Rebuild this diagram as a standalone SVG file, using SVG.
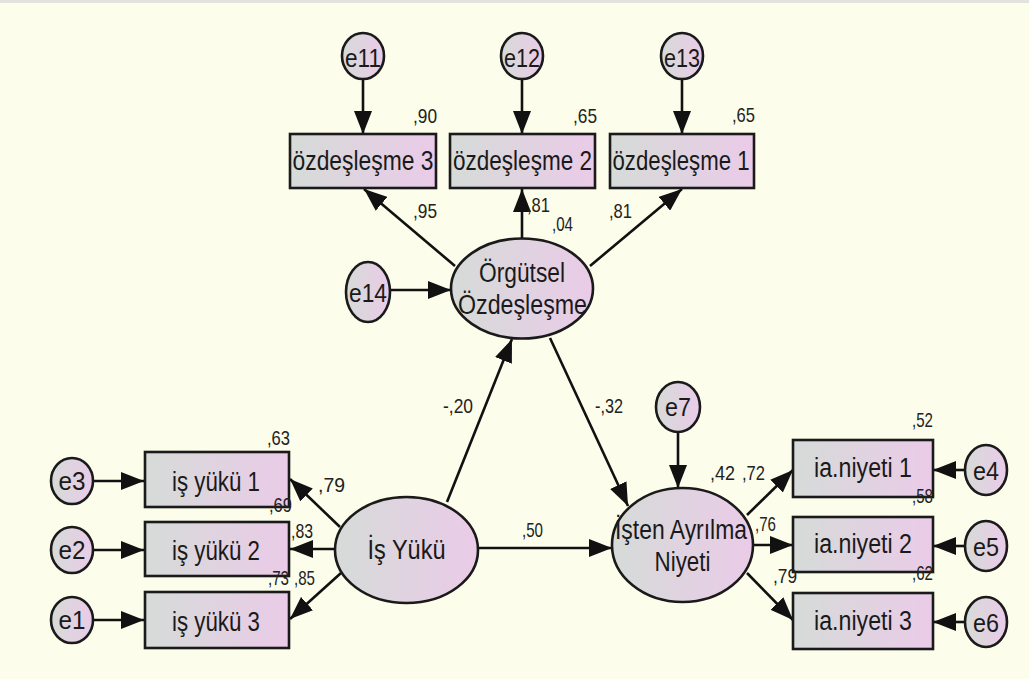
<svg xmlns="http://www.w3.org/2000/svg" width="1029" height="679" viewBox="0 0 1029 679">
<style>
.shp{stroke:#1a1a1a;stroke-width:2.6;fill:url(#g)}
.ln{stroke:#111;stroke-width:2.6;fill:none;marker-end:url(#ah)}
text{font-family:"Liberation Sans",Arial,sans-serif;fill:#1a1a1a}
.lb{font-size:27px;text-anchor:middle}
.el{font-size:26px;text-anchor:middle}
.v{font-size:21px;text-anchor:end;fill:#222}
</style>
<defs>
<linearGradient id="g" x1="0" y1="0" x2="1" y2="0">
<stop offset="0" stop-color="#d6dbd8"/>
<stop offset="1" stop-color="#eacbe8"/>
</linearGradient>
<marker id="ah" markerUnits="userSpaceOnUse" markerWidth="24" markerHeight="18" refX="23" refY="9" orient="auto">
<path d="M0,0 L23,9 L0,18 z" fill="#111"/>
</marker>
</defs>
<rect width="1029" height="679" fill="#fcfdeb"/>
<rect width="1029" height="3" fill="#e2e2de"/>

<g id="connectors">
<line class="ln" x1="363" y1="79" x2="363" y2="134"/>
<line class="ln" x1="522" y1="79" x2="522" y2="134"/>
<line class="ln" x1="682" y1="79" x2="682" y2="134"/>
<line class="ln" x1="390" y1="290" x2="451" y2="290"/>
<line class="ln" x1="455" y1="266" x2="364" y2="189"/>
<line class="ln" x1="522" y1="239" x2="522" y2="189"/>
<line class="ln" x1="590" y1="266" x2="682" y2="189"/>
<line class="ln" x1="340" y1="527" x2="290" y2="479"/>
<line class="ln" x1="335" y1="549" x2="290" y2="549"/>
<line class="ln" x1="341" y1="573" x2="290" y2="619"/>
<line class="ln" x1="447" y1="502" x2="512" y2="339"/>
<line class="ln" x1="550" y1="338" x2="628" y2="506"/>
<line class="ln" x1="478" y1="548" x2="612" y2="548"/>
<line class="ln" x1="93" y1="481" x2="144" y2="481"/>
<line class="ln" x1="93" y1="550" x2="144" y2="550"/>
<line class="ln" x1="93" y1="620" x2="144" y2="620"/>
<line class="ln" x1="678" y1="432" x2="678" y2="488"/>
<line class="ln" x1="747" y1="515" x2="793" y2="470"/>
<line class="ln" x1="753" y1="545" x2="793" y2="545"/>
<line class="ln" x1="747" y1="573" x2="793" y2="620"/>
<line class="ln" x1="965" y1="470" x2="933" y2="470"/>
<line class="ln" x1="965" y1="546" x2="933" y2="546"/>
<line class="ln" x1="965" y1="622" x2="933" y2="622"/>
</g>

<g id="e11"><ellipse class="shp" cx="363" cy="56" rx="21" ry="23"/><text class="el" x="363" y="67" textLength="36" lengthAdjust="spacingAndGlyphs">e11</text></g>
<g id="e12"><ellipse class="shp" cx="522" cy="56" rx="21" ry="23"/><text class="el" x="522" y="67" textLength="36" lengthAdjust="spacingAndGlyphs">e12</text></g>
<g id="e13"><ellipse class="shp" cx="682" cy="56" rx="21" ry="23"/><text class="el" x="682" y="67" textLength="36" lengthAdjust="spacingAndGlyphs">e13</text></g>
<g id="e14"><ellipse class="shp" cx="368" cy="292" rx="22" ry="30"/><text class="el" x="368" y="302" textLength="38" lengthAdjust="spacingAndGlyphs">e14</text></g>

<g id="oz3"><rect class="shp" x="290" y="134" width="146" height="54"/><text class="lb" x="363" y="170" textLength="141" lengthAdjust="spacingAndGlyphs">özdeşleşme 3</text></g>
<g id="oz2"><rect class="shp" x="450" y="134" width="145" height="54"/><text class="lb" x="522.5" y="170" textLength="139" lengthAdjust="spacingAndGlyphs">özdeşleşme 2</text></g>
<g id="oz1"><rect class="shp" x="610" y="134" width="144" height="54"/><text class="lb" x="681" y="170" textLength="137" lengthAdjust="spacingAndGlyphs">özdeşleşme 1</text></g>

<g id="orgutsel"><ellipse class="shp" cx="522" cy="288.5" rx="71" ry="50"/><text class="lb" x="522" y="282" textLength="86" lengthAdjust="spacingAndGlyphs">Örgütsel</text><text class="lb" x="522.5" y="314" textLength="129" lengthAdjust="spacingAndGlyphs">Özdeşleşme</text></g>

<g id="e3"><ellipse class="shp" cx="72" cy="481" rx="21" ry="23"/><text class="el" x="72" y="490" textLength="27" lengthAdjust="spacingAndGlyphs">e3</text></g>
<g id="e2"><ellipse class="shp" cx="72" cy="550" rx="21" ry="23"/><text class="el" x="72" y="559" textLength="27" lengthAdjust="spacingAndGlyphs">e2</text></g>
<g id="e1"><ellipse class="shp" cx="72" cy="620" rx="21" ry="23"/><text class="el" x="72" y="629" textLength="27" lengthAdjust="spacingAndGlyphs">e1</text></g>

<g id="iy1"><rect class="shp" x="145" y="452" width="144" height="55"/><text class="lb" x="216" y="491" textLength="88" lengthAdjust="spacingAndGlyphs">iş yükü 1</text></g>
<g id="iy2"><rect class="shp" x="145" y="522" width="144" height="54"/><text class="lb" x="216" y="560" textLength="88" lengthAdjust="spacingAndGlyphs">iş yükü 2</text></g>
<g id="iy3"><rect class="shp" x="145" y="592" width="144" height="56"/><text class="lb" x="216" y="631" textLength="88" lengthAdjust="spacingAndGlyphs">iş yükü 3</text></g>

<g id="isyuku"><ellipse class="shp" cx="406.5" cy="550" rx="71.5" ry="53"/><text class="lb" x="406.5" y="559" textLength="78" lengthAdjust="spacingAndGlyphs">İş Yükü</text></g>

<g id="e7"><ellipse class="shp" cx="678" cy="407" rx="22" ry="25"/><text class="el" x="678" y="416" textLength="26" lengthAdjust="spacingAndGlyphs">e7</text></g>

<g id="isten"><ellipse class="shp" cx="682.5" cy="545" rx="70.5" ry="57"/><text class="lb" x="681" y="539" textLength="132" lengthAdjust="spacingAndGlyphs">İşten Ayrılma</text><text class="lb" x="682.5" y="571" textLength="56" lengthAdjust="spacingAndGlyphs">Niyeti</text></g>

<g id="ia1"><rect class="shp" x="793" y="440" width="140" height="57"/><text class="lb" x="863" y="477" textLength="98" lengthAdjust="spacingAndGlyphs">ia.niyeti 1</text></g>
<g id="ia2"><rect class="shp" x="793" y="517" width="140" height="55"/><text class="lb" x="863" y="553" textLength="98" lengthAdjust="spacingAndGlyphs">ia.niyeti 2</text></g>
<g id="ia3"><rect class="shp" x="793" y="593" width="140" height="56"/><text class="lb" x="863" y="630" textLength="98" lengthAdjust="spacingAndGlyphs">ia.niyeti 3</text></g>

<g id="e4"><ellipse class="shp" cx="986" cy="470" rx="21" ry="25"/><text class="el" x="986" y="480" textLength="26" lengthAdjust="spacingAndGlyphs">e4</text></g>
<g id="e5"><ellipse class="shp" cx="986" cy="546" rx="21" ry="25"/><text class="el" x="986" y="556" textLength="26" lengthAdjust="spacingAndGlyphs">e5</text></g>
<g id="e6"><ellipse class="shp" cx="986" cy="622" rx="21" ry="25"/><text class="el" x="986" y="632" textLength="26" lengthAdjust="spacingAndGlyphs">e6</text></g>

<g id="values">
<text class="v" x="437" y="123" textLength="24" lengthAdjust="spacingAndGlyphs">,90</text>
<text class="v" x="597" y="123" textLength="24" lengthAdjust="spacingAndGlyphs">,65</text>
<text class="v" x="755" y="122" textLength="23" lengthAdjust="spacingAndGlyphs">,65</text>
<text class="v" x="437" y="218" textLength="24" lengthAdjust="spacingAndGlyphs">,95</text>
<text class="v" x="550" y="212" textLength="23" lengthAdjust="spacingAndGlyphs">,81</text>
<text class="v" x="573" y="231" textLength="21" lengthAdjust="spacingAndGlyphs">,04</text>
<text class="v" x="632" y="218" textLength="23" lengthAdjust="spacingAndGlyphs">,81</text>
<text class="v" x="473" y="413" textLength="30" lengthAdjust="spacingAndGlyphs">-,20</text>
<text class="v" x="623" y="413" textLength="28" lengthAdjust="spacingAndGlyphs">-,32</text>
<text class="v" x="290" y="445" textLength="23" lengthAdjust="spacingAndGlyphs">,63</text>
<text class="v" x="292" y="512" textLength="23" lengthAdjust="spacingAndGlyphs">,69</text>
<text class="v" x="289" y="585" textLength="21" lengthAdjust="spacingAndGlyphs">,73</text>
<text class="v" x="345" y="492" textLength="27" lengthAdjust="spacingAndGlyphs">,79</text>
<text class="v" x="313" y="538" textLength="22" lengthAdjust="spacingAndGlyphs">,83</text>
<text class="v" x="315" y="585" textLength="21" lengthAdjust="spacingAndGlyphs">,85</text>
<text class="v" x="543" y="537" textLength="21" lengthAdjust="spacingAndGlyphs">,50</text>
<text class="v" x="735" y="480" textLength="25" lengthAdjust="spacingAndGlyphs">,42</text>
<text class="v" x="765" y="480" textLength="23" lengthAdjust="spacingAndGlyphs">,72</text>
<text class="v" x="776" y="531" textLength="21" lengthAdjust="spacingAndGlyphs">,76</text>
<text class="v" x="797" y="583" textLength="24" lengthAdjust="spacingAndGlyphs">,79</text>
<text class="v" x="933" y="427" textLength="21" lengthAdjust="spacingAndGlyphs">,52</text>
<text class="v" x="933" y="503" textLength="21" lengthAdjust="spacingAndGlyphs">,58</text>
<text class="v" x="933" y="580" textLength="21" lengthAdjust="spacingAndGlyphs">,62</text>
</g>
</svg>
